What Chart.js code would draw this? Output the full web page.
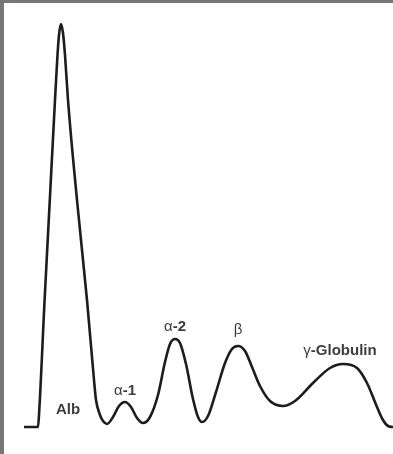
<!DOCTYPE html>
<html lang="en">
<head>
    <meta charset="UTF-8">
    <title>Serum protein electrophoresis</title>
    <script src="https://cdn.jsdelivr.net/npm/chart.js"></script>
    <style>
        html, body { margin: 0; padding: 0; }
        body {
            width: 389px;
            height: 451px;
            background: #fff;
            border-left: 4px solid #77777b;
            border-top: 3px solid #77777b;
            overflow: hidden;
        }
        canvas { display: block; }
    </style>
</head>
<body>
    <canvas id="spep" width="389" height="451"></canvas>
    <script>
        // migration distance and density
        const positions = [20, 34, 35, 40.6, 45.8, 51, 53.5, 55, 57, 59, 61, 64, 73, 83, 90, 92, 96, 99, 103,
            109, 115, 121, 127, 133, 139,
            146, 154, 161, 166, 171, 176, 182, 189, 194, 198,
            204, 212, 221, 228, 234, 241, 248, 256, 266, 279,
            291, 309, 326, 339, 353, 363, 373, 379, 384, 389];
        const density = [0, 0, 12, 127, 227, 327, 372, 392, 403, 394, 372, 327, 227, 127, 47, 27, 12, 6, 3,
            10, 21, 25, 20, 9, 4,
            10, 32, 65, 83, 88, 84, 63, 28, 10, 5,
            11, 35, 64, 78, 81, 76, 60, 41, 26, 21,
            26, 44, 59, 63, 59, 44, 20, 7, 1, 0];

        // fraction labels: greek prefix, bold rest, position
        const fractionGreek = ['', 'α', 'α', 'β', 'γ'];
        const fractionText = ['Alb', '-1', '-2', '', '-Globulin'];
        const labelX = [64, 121, 171, 234, 336];
        const labelY = [13, 32, 96, 93, 72];

        const fractionLabels = {
            id: 'fractionLabels',
            afterDatasetsDraw(chart) {
                const ctx = chart.ctx;
                const xs = chart.scales.x, ys = chart.scales.y;
                ctx.save();
                ctx.fillStyle = '#3d3d3d';
                ctx.textBaseline = 'alphabetic';
                ctx.textAlign = 'left';
                const normal = '15px "Liberation Sans", Arial, sans-serif';
                const bold = 'bold 15px "Liberation Sans", Arial, sans-serif';
                for (let i = 0; i < fractionText.length; i++) {
                    ctx.font = normal;
                    const w1 = ctx.measureText(fractionGreek[i]).width;
                    ctx.font = bold;
                    const w2 = ctx.measureText(fractionText[i]).width;
                    let px = xs.getPixelForValue(labelX[i]) - (w1 + w2) / 2;
                    const py = ys.getPixelForValue(labelY[i]);
                    ctx.font = normal;
                    ctx.fillText(fractionGreek[i], px, py);
                    ctx.font = bold;
                    ctx.fillText(fractionText[i], px + w1, py);
                }
                ctx.restore();
            }
        };

        const ctx = document.getElementById('spep').getContext('2d');
        new Chart(ctx, {
            type: 'line',
            data: {
                datasets: [{
                    data: positions.map((x, i) => ({ x: x, y: density[i] })),
                    borderColor: '#1c1c1c',
                    borderWidth: 2.6,
                    pointRadius: 0,
                    fill: false,
                    cubicInterpolationMode: 'monotone'
                }]
            },
            options: {
                responsive: false,
                animation: false,
                devicePixelRatio: 1,
                layout: { padding: 0 },
                plugins: {
                    legend: { display: false },
                    tooltip: { enabled: false }
                },
                scales: {
                    x: { type: 'linear', display: false, min: 0, max: 389 },
                    y: { display: false, min: -27, max: 424 }
                }
            },
            plugins: [fractionLabels]
        });
    </script>
</body>
</html>
